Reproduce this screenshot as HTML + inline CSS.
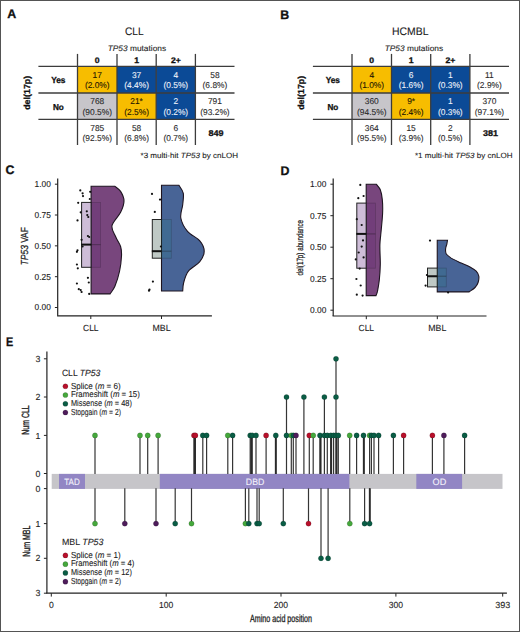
<!DOCTYPE html>
<html><head><meta charset="utf-8"><style>
html,body{margin:0;padding:0;background:#fff;}
svg{display:block;font-family:"Liberation Sans", sans-serif;text-rendering:geometricPrecision;}
</style></head><body>
<svg width="520" height="632" viewBox="0 0 520 632">
<rect width="520" height="632" fill="#fff"/>
<text x="7.3" y="17.8" font-size="12.4" font-weight="bold" fill="#111" stroke="#111" stroke-width="0.3">A</text>
<text x="280.3" y="18.6" font-size="12.4" font-weight="bold" fill="#111" stroke="#111" stroke-width="0.3">B</text>
<rect x="77.5" y="66.4" width="39.5" height="26.6" fill="#f7bd00"/>
<rect x="117.0" y="66.4" width="39.2" height="26.6" fill="#0b4a96"/>
<rect x="156.2" y="66.4" width="39.2" height="26.6" fill="#0b4a96"/>
<rect x="77.5" y="93.0" width="39.5" height="26.3" fill="#c7c5ca"/>
<rect x="117.0" y="93.0" width="39.2" height="26.3" fill="#f7bd00"/>
<rect x="156.2" y="93.0" width="39.2" height="26.3" fill="#0b4a96"/>
<line x1="77.5" y1="53.9" x2="77.5" y2="145" stroke="#3c3c3c" stroke-width="1.3"/>
<line x1="117.0" y1="53.9" x2="117.0" y2="145" stroke="#3c3c3c" stroke-width="1.3"/>
<line x1="156.2" y1="53.9" x2="156.2" y2="145" stroke="#3c3c3c" stroke-width="1.3"/>
<line x1="195.4" y1="53.9" x2="195.4" y2="145" stroke="#3c3c3c" stroke-width="1.3"/>
<line x1="38.4" y1="66.4" x2="234.5" y2="66.4" stroke="#3c3c3c" stroke-width="1.3"/>
<line x1="38.4" y1="93.0" x2="234.5" y2="93.0" stroke="#3c3c3c" stroke-width="1.3"/>
<line x1="38.4" y1="119.3" x2="234.5" y2="119.3" stroke="#3c3c3c" stroke-width="1.3"/>
<text x="134.3" y="34.9" font-size="10.9" text-anchor="middle" fill="#1a1a1a" textLength="18.50" lengthAdjust="spacingAndGlyphs" stroke="#1a1a1a" stroke-width="0.1">CLL</text>
<text x="136.9" y="50.5" font-size="8.0" text-anchor="middle" fill="#222" textLength="58.40" lengthAdjust="spacingAndGlyphs" stroke="#222" stroke-width="0.1"><tspan font-style="italic">TP53</tspan> mutations</text>
<text x="97.25" y="62.9" font-size="8.0" text-anchor="middle" font-weight="bold" fill="#111" textLength="4.81" lengthAdjust="spacingAndGlyphs" stroke="#111" stroke-width="0.3">0</text>
<text x="136.6" y="62.9" font-size="8.0" text-anchor="middle" font-weight="bold" fill="#111" textLength="4.81" lengthAdjust="spacingAndGlyphs" stroke="#111" stroke-width="0.3">1</text>
<text x="175.8" y="62.9" font-size="8.0" text-anchor="middle" font-weight="bold" fill="#111" textLength="9.85" lengthAdjust="spacingAndGlyphs" stroke="#111" stroke-width="0.3">2+</text>
<text x="58.3" y="83.4" font-size="8.7" text-anchor="middle" font-weight="bold" fill="#111" textLength="14.30" lengthAdjust="spacingAndGlyphs" stroke="#111" stroke-width="0.3">Yes</text>
<text x="58.4" y="109.6" font-size="8.6" text-anchor="middle" font-weight="bold" fill="#111" textLength="10.90" lengthAdjust="spacingAndGlyphs" stroke="#111" stroke-width="0.3">No</text>
<text x="0" y="0" font-size="8.8" text-anchor="middle" font-weight="bold" fill="#111" textLength="34.00" lengthAdjust="spacingAndGlyphs" stroke="#111" stroke-width="0.3" transform="translate(29.6,92.8) rotate(-90)">del(17p)</text>
<text x="97.25" y="78.2" font-size="8.5" text-anchor="middle" fill="#1e1600" textLength="9.34" lengthAdjust="spacingAndGlyphs" stroke="#1e1600" stroke-width="0.1">17</text>
<text x="97.25" y="88.2" font-size="8.5" text-anchor="middle" fill="#1e1600" textLength="24.74" lengthAdjust="spacingAndGlyphs" stroke="#1e1600" stroke-width="0.1">(2.0%)</text>
<text x="136.6" y="78.2" font-size="8.5" text-anchor="middle" fill="#eef2fa" textLength="9.34" lengthAdjust="spacingAndGlyphs" stroke="#eef2fa" stroke-width="0.1">37</text>
<text x="136.6" y="88.2" font-size="8.5" text-anchor="middle" fill="#eef2fa" textLength="24.74" lengthAdjust="spacingAndGlyphs" stroke="#eef2fa" stroke-width="0.1">(4.4%)</text>
<text x="175.8" y="78.2" font-size="8.5" text-anchor="middle" fill="#eef2fa" textLength="4.67" lengthAdjust="spacingAndGlyphs" stroke="#eef2fa" stroke-width="0.1">4</text>
<text x="175.8" y="88.2" font-size="8.5" text-anchor="middle" fill="#eef2fa" textLength="24.74" lengthAdjust="spacingAndGlyphs" stroke="#eef2fa" stroke-width="0.1">(0.5%)</text>
<text x="214.95" y="78.2" font-size="8.5" text-anchor="middle" fill="#2a2a2a" textLength="9.34" lengthAdjust="spacingAndGlyphs" stroke="#2a2a2a" stroke-width="0.1">58</text>
<text x="214.95" y="88.2" font-size="8.5" text-anchor="middle" fill="#2a2a2a" textLength="24.74" lengthAdjust="spacingAndGlyphs" stroke="#2a2a2a" stroke-width="0.1">(6.8%)</text>
<text x="97.25" y="104.4" font-size="8.5" text-anchor="middle" fill="#2a2a2a" textLength="14.02" lengthAdjust="spacingAndGlyphs" stroke="#2a2a2a" stroke-width="0.1">768</text>
<text x="97.25" y="114.6" font-size="8.5" text-anchor="middle" fill="#2a2a2a" textLength="29.41" lengthAdjust="spacingAndGlyphs" stroke="#2a2a2a" stroke-width="0.1">(90.5%)</text>
<text x="136.6" y="104.4" font-size="8.5" text-anchor="middle" fill="#1e1600" textLength="12.61" lengthAdjust="spacingAndGlyphs" stroke="#1e1600" stroke-width="0.1">21*</text>
<text x="136.6" y="114.6" font-size="8.5" text-anchor="middle" fill="#1e1600" textLength="24.74" lengthAdjust="spacingAndGlyphs" stroke="#1e1600" stroke-width="0.1">(2.5%)</text>
<text x="175.8" y="104.4" font-size="8.5" text-anchor="middle" fill="#eef2fa" textLength="4.67" lengthAdjust="spacingAndGlyphs" stroke="#eef2fa" stroke-width="0.1">2</text>
<text x="175.8" y="114.6" font-size="8.5" text-anchor="middle" fill="#eef2fa" textLength="24.74" lengthAdjust="spacingAndGlyphs" stroke="#eef2fa" stroke-width="0.1">(0.2%)</text>
<text x="214.95" y="104.4" font-size="8.5" text-anchor="middle" fill="#2a2a2a" textLength="14.02" lengthAdjust="spacingAndGlyphs" stroke="#2a2a2a" stroke-width="0.1">791</text>
<text x="214.95" y="114.6" font-size="8.5" text-anchor="middle" fill="#2a2a2a" textLength="29.41" lengthAdjust="spacingAndGlyphs" stroke="#2a2a2a" stroke-width="0.1">(93.2%)</text>
<text x="97.25" y="131.2" font-size="8.5" text-anchor="middle" fill="#2a2a2a" textLength="14.02" lengthAdjust="spacingAndGlyphs" stroke="#2a2a2a" stroke-width="0.1">785</text>
<text x="97.25" y="140.8" font-size="8.5" text-anchor="middle" fill="#2a2a2a" textLength="29.41" lengthAdjust="spacingAndGlyphs" stroke="#2a2a2a" stroke-width="0.1">(92.5%)</text>
<text x="136.6" y="131.2" font-size="8.5" text-anchor="middle" fill="#2a2a2a" textLength="9.34" lengthAdjust="spacingAndGlyphs" stroke="#2a2a2a" stroke-width="0.1">58</text>
<text x="136.6" y="140.8" font-size="8.5" text-anchor="middle" fill="#2a2a2a" textLength="24.74" lengthAdjust="spacingAndGlyphs" stroke="#2a2a2a" stroke-width="0.1">(6.8%)</text>
<text x="175.8" y="131.2" font-size="8.5" text-anchor="middle" fill="#2a2a2a" textLength="4.67" lengthAdjust="spacingAndGlyphs" stroke="#2a2a2a" stroke-width="0.1">6</text>
<text x="175.8" y="140.8" font-size="8.5" text-anchor="middle" fill="#2a2a2a" textLength="24.74" lengthAdjust="spacingAndGlyphs" stroke="#2a2a2a" stroke-width="0.1">(0.7%)</text>
<text x="215.95" y="135.6" font-size="8.3" text-anchor="middle" font-weight="bold" fill="#111" textLength="15.00" lengthAdjust="spacingAndGlyphs" stroke="#111" stroke-width="0.3">849</text>
<text x="238.1" y="157.6" font-size="7.6" text-anchor="end" fill="#222" textLength="97.60" lengthAdjust="spacingAndGlyphs" stroke="#222" stroke-width="0.1">*3 multi-hit <tspan font-style="italic">TP53</tspan> by cnLOH</text>
<rect x="352.0" y="66.4" width="39.5" height="26.6" fill="#f7bd00"/>
<rect x="391.5" y="66.4" width="39.2" height="26.6" fill="#0b4a96"/>
<rect x="430.7" y="66.4" width="39.2" height="26.6" fill="#0b4a96"/>
<rect x="352.0" y="93.0" width="39.5" height="26.3" fill="#c7c5ca"/>
<rect x="391.5" y="93.0" width="39.2" height="26.3" fill="#f7bd00"/>
<rect x="430.7" y="93.0" width="39.2" height="26.3" fill="#0b4a96"/>
<line x1="352.0" y1="53.9" x2="352.0" y2="145" stroke="#3c3c3c" stroke-width="1.3"/>
<line x1="391.5" y1="53.9" x2="391.5" y2="145" stroke="#3c3c3c" stroke-width="1.3"/>
<line x1="430.7" y1="53.9" x2="430.7" y2="145" stroke="#3c3c3c" stroke-width="1.3"/>
<line x1="469.9" y1="53.9" x2="469.9" y2="145" stroke="#3c3c3c" stroke-width="1.3"/>
<line x1="312.9" y1="66.4" x2="509.0" y2="66.4" stroke="#3c3c3c" stroke-width="1.3"/>
<line x1="312.9" y1="93.0" x2="509.0" y2="93.0" stroke="#3c3c3c" stroke-width="1.3"/>
<line x1="312.9" y1="119.3" x2="509.0" y2="119.3" stroke="#3c3c3c" stroke-width="1.3"/>
<text x="410.3" y="34.9" font-size="10.9" text-anchor="middle" fill="#1a1a1a" textLength="36.40" lengthAdjust="spacingAndGlyphs" stroke="#1a1a1a" stroke-width="0.1">HCMBL</text>
<text x="413.9" y="50.5" font-size="8.0" text-anchor="middle" fill="#222" textLength="58.40" lengthAdjust="spacingAndGlyphs" stroke="#222" stroke-width="0.1"><tspan font-style="italic">TP53</tspan> mutations</text>
<text x="371.75" y="62.9" font-size="8.0" text-anchor="middle" font-weight="bold" fill="#111" textLength="4.81" lengthAdjust="spacingAndGlyphs" stroke="#111" stroke-width="0.3">0</text>
<text x="411.1" y="62.9" font-size="8.0" text-anchor="middle" font-weight="bold" fill="#111" textLength="4.81" lengthAdjust="spacingAndGlyphs" stroke="#111" stroke-width="0.3">1</text>
<text x="450.29999999999995" y="62.9" font-size="8.0" text-anchor="middle" font-weight="bold" fill="#111" textLength="9.85" lengthAdjust="spacingAndGlyphs" stroke="#111" stroke-width="0.3">2+</text>
<text x="332.8" y="83.4" font-size="8.7" text-anchor="middle" font-weight="bold" fill="#111" textLength="14.30" lengthAdjust="spacingAndGlyphs" stroke="#111" stroke-width="0.3">Yes</text>
<text x="332.9" y="109.6" font-size="8.6" text-anchor="middle" font-weight="bold" fill="#111" textLength="10.90" lengthAdjust="spacingAndGlyphs" stroke="#111" stroke-width="0.3">No</text>
<text x="0" y="0" font-size="8.8" text-anchor="middle" font-weight="bold" fill="#111" textLength="34.00" lengthAdjust="spacingAndGlyphs" stroke="#111" stroke-width="0.3" transform="translate(304.1,92.8) rotate(-90)">del(17p)</text>
<text x="371.75" y="78.2" font-size="8.5" text-anchor="middle" fill="#1e1600" textLength="4.67" lengthAdjust="spacingAndGlyphs" stroke="#1e1600" stroke-width="0.1">4</text>
<text x="371.75" y="88.2" font-size="8.5" text-anchor="middle" fill="#1e1600" textLength="24.74" lengthAdjust="spacingAndGlyphs" stroke="#1e1600" stroke-width="0.1">(1.0%)</text>
<text x="411.1" y="78.2" font-size="8.5" text-anchor="middle" fill="#eef2fa" textLength="4.67" lengthAdjust="spacingAndGlyphs" stroke="#eef2fa" stroke-width="0.1">6</text>
<text x="411.1" y="88.2" font-size="8.5" text-anchor="middle" fill="#eef2fa" textLength="24.74" lengthAdjust="spacingAndGlyphs" stroke="#eef2fa" stroke-width="0.1">(1.6%)</text>
<text x="450.29999999999995" y="78.2" font-size="8.5" text-anchor="middle" fill="#eef2fa" textLength="4.67" lengthAdjust="spacingAndGlyphs" stroke="#eef2fa" stroke-width="0.1">1</text>
<text x="450.29999999999995" y="88.2" font-size="8.5" text-anchor="middle" fill="#eef2fa" textLength="24.74" lengthAdjust="spacingAndGlyphs" stroke="#eef2fa" stroke-width="0.1">(0.3%)</text>
<text x="489.45" y="78.2" font-size="8.5" text-anchor="middle" fill="#2a2a2a" textLength="8.72" lengthAdjust="spacingAndGlyphs" stroke="#2a2a2a" stroke-width="0.1">11</text>
<text x="489.45" y="88.2" font-size="8.5" text-anchor="middle" fill="#2a2a2a" textLength="24.74" lengthAdjust="spacingAndGlyphs" stroke="#2a2a2a" stroke-width="0.1">(2.9%)</text>
<text x="371.75" y="104.4" font-size="8.5" text-anchor="middle" fill="#2a2a2a" textLength="14.02" lengthAdjust="spacingAndGlyphs" stroke="#2a2a2a" stroke-width="0.1">360</text>
<text x="371.75" y="114.6" font-size="8.5" text-anchor="middle" fill="#2a2a2a" textLength="29.41" lengthAdjust="spacingAndGlyphs" stroke="#2a2a2a" stroke-width="0.1">(94.5%)</text>
<text x="411.1" y="104.4" font-size="8.5" text-anchor="middle" fill="#1e1600" textLength="7.94" lengthAdjust="spacingAndGlyphs" stroke="#1e1600" stroke-width="0.1">9*</text>
<text x="411.1" y="114.6" font-size="8.5" text-anchor="middle" fill="#1e1600" textLength="24.74" lengthAdjust="spacingAndGlyphs" stroke="#1e1600" stroke-width="0.1">(2.4%)</text>
<text x="450.29999999999995" y="104.4" font-size="8.5" text-anchor="middle" fill="#eef2fa" textLength="4.67" lengthAdjust="spacingAndGlyphs" stroke="#eef2fa" stroke-width="0.1">1</text>
<text x="450.29999999999995" y="114.6" font-size="8.5" text-anchor="middle" fill="#eef2fa" textLength="24.74" lengthAdjust="spacingAndGlyphs" stroke="#eef2fa" stroke-width="0.1">(0.3%)</text>
<text x="489.45" y="104.4" font-size="8.5" text-anchor="middle" fill="#2a2a2a" textLength="14.02" lengthAdjust="spacingAndGlyphs" stroke="#2a2a2a" stroke-width="0.1">370</text>
<text x="489.45" y="114.6" font-size="8.5" text-anchor="middle" fill="#2a2a2a" textLength="29.41" lengthAdjust="spacingAndGlyphs" stroke="#2a2a2a" stroke-width="0.1">(97.1%)</text>
<text x="371.75" y="131.2" font-size="8.5" text-anchor="middle" fill="#2a2a2a" textLength="14.02" lengthAdjust="spacingAndGlyphs" stroke="#2a2a2a" stroke-width="0.1">364</text>
<text x="371.75" y="140.8" font-size="8.5" text-anchor="middle" fill="#2a2a2a" textLength="29.41" lengthAdjust="spacingAndGlyphs" stroke="#2a2a2a" stroke-width="0.1">(95.5%)</text>
<text x="411.1" y="131.2" font-size="8.5" text-anchor="middle" fill="#2a2a2a" textLength="9.34" lengthAdjust="spacingAndGlyphs" stroke="#2a2a2a" stroke-width="0.1">15</text>
<text x="411.1" y="140.8" font-size="8.5" text-anchor="middle" fill="#2a2a2a" textLength="24.74" lengthAdjust="spacingAndGlyphs" stroke="#2a2a2a" stroke-width="0.1">(3.9%)</text>
<text x="450.29999999999995" y="131.2" font-size="8.5" text-anchor="middle" fill="#2a2a2a" textLength="4.67" lengthAdjust="spacingAndGlyphs" stroke="#2a2a2a" stroke-width="0.1">2</text>
<text x="450.29999999999995" y="140.8" font-size="8.5" text-anchor="middle" fill="#2a2a2a" textLength="24.74" lengthAdjust="spacingAndGlyphs" stroke="#2a2a2a" stroke-width="0.1">(0.5%)</text>
<text x="490.45" y="135.6" font-size="8.3" text-anchor="middle" font-weight="bold" fill="#111" textLength="15.00" lengthAdjust="spacingAndGlyphs" stroke="#111" stroke-width="0.3">381</text>
<text x="512.6" y="157.6" font-size="7.6" text-anchor="end" fill="#222" textLength="97.60" lengthAdjust="spacingAndGlyphs" stroke="#222" stroke-width="0.1">*1 multi-hit <tspan font-style="italic">TP53</tspan> by cnLOH</text>
<text x="5.6" y="174.1" font-size="12.4" font-weight="bold" fill="#111" stroke="#111" stroke-width="0.3">C</text>
<path d="M91.1,293.9 L91.1,186.3 L114.9,186.3 C115.9,187.2 119.1,189.0 120.6,191.4 C122.1,193.8 124.0,197.4 124.0,200.9 C124.0,204.4 122.6,208.2 120.6,212.3 C118.6,216.4 112.8,221.5 112.0,225.6 C111.2,229.7 114.4,233.5 115.8,237.0 C117.2,240.5 119.6,243.3 120.6,246.5 C121.5,249.7 121.7,251.9 121.5,256.0 C121.3,260.1 120.7,265.9 119.6,271.0 C118.5,276.1 116.5,282.5 114.9,286.3 C113.3,290.1 110.9,292.6 110.1,293.9 L91.1,293.9 Z" fill="#78467d" stroke="#1e1420" stroke-width="1.1"/>
<rect x="81.6" y="202.4" width="9.50" height="64.90" fill="#cebdd8" stroke="#222" stroke-width="1"/>
<rect x="91.1" y="202.4" width="9.50" height="64.90" fill="#5a1f6e" fill-opacity="0.2" stroke="#111" stroke-opacity="0.2" stroke-width="0.8"/>
<line x1="81.1" y1="244.6" x2="91.1" y2="244.6" stroke="#111" stroke-width="2"/>
<line x1="91.1" y1="244.6" x2="100.6" y2="244.6" stroke="#111" stroke-opacity="0.3" stroke-width="1.2"/>
<circle cx="80.3" cy="190.4" r="1.1" fill="#111"/>
<circle cx="82.6" cy="193.3" r="1.1" fill="#111"/>
<circle cx="83.0" cy="196.1" r="1.1" fill="#111"/>
<circle cx="90.2" cy="191.8" r="1.1" fill="#111"/>
<circle cx="89.8" cy="199.0" r="1.1" fill="#111"/>
<circle cx="78.2" cy="202.8" r="1.1" fill="#111"/>
<circle cx="80.7" cy="212.3" r="1.1" fill="#111"/>
<circle cx="86.8" cy="211.3" r="1.1" fill="#111"/>
<circle cx="87.3" cy="215.1" r="1.1" fill="#111"/>
<circle cx="88.3" cy="217.0" r="1.1" fill="#111"/>
<circle cx="77.5" cy="220.4" r="1.1" fill="#111"/>
<circle cx="87.9" cy="236.0" r="1.1" fill="#111"/>
<circle cx="89.2" cy="237.0" r="1.1" fill="#111"/>
<circle cx="81.6" cy="239.8" r="1.1" fill="#111"/>
<circle cx="77.5" cy="250.3" r="1.1" fill="#111"/>
<circle cx="76.9" cy="251.8" r="1.1" fill="#111"/>
<circle cx="82.6" cy="246.5" r="1.1" fill="#111"/>
<circle cx="76.9" cy="264.5" r="1.1" fill="#111"/>
<circle cx="77.8" cy="268.3" r="1.1" fill="#111"/>
<circle cx="87.9" cy="277.8" r="1.1" fill="#111"/>
<circle cx="88.8" cy="282.5" r="1.1" fill="#111"/>
<circle cx="76.9" cy="283.5" r="1.1" fill="#111"/>
<circle cx="78.8" cy="289.2" r="1.1" fill="#111"/>
<circle cx="80.7" cy="290.1" r="1.1" fill="#111"/>
<circle cx="81.6" cy="292.0" r="1.1" fill="#111"/>
<circle cx="89.2" cy="293.9" r="1.1" fill="#111"/>
<path d="M161.5,291 L161.5,185.3 L178.9,185.3 C179.6,186.6 182.7,190.1 183.3,193.3 C183.9,196.5 183.1,200.6 182.7,204.7 C182.3,208.8 180.0,213.6 180.8,218.0 C181.6,222.4 184.3,227.5 187.5,231.3 C190.7,235.1 197.0,237.5 199.8,240.8 C202.6,244.1 204.2,247.7 204.2,251.2 C204.2,254.7 202.4,258.3 199.8,261.6 C197.2,264.9 191.1,267.6 188.4,271.1 C185.7,274.6 184.6,279.2 183.7,282.5 C182.8,285.8 182.9,289.6 182.7,291.0 L161.5,291 Z" fill="#486496" stroke="#1e1420" stroke-width="1.1"/>
<rect x="152.3" y="219.5" width="9.20" height="38.70" fill="#bfc9c5" stroke="#222" stroke-width="1"/>
<rect x="161.5" y="219.5" width="9.80" height="38.70" fill="#2c7a88" fill-opacity="0.28" stroke="#111" stroke-opacity="0.2" stroke-width="0.8"/>
<line x1="151.8" y1="251.2" x2="161.5" y2="251.2" stroke="#111" stroke-width="2"/>
<line x1="161.5" y1="251.2" x2="171.3" y2="251.2" stroke="#111" stroke-opacity="0.3" stroke-width="1.2"/>
<circle cx="152.0" cy="193.9" r="1.1" fill="#111"/>
<circle cx="160.0" cy="199.6" r="1.1" fill="#111"/>
<circle cx="154.8" cy="211.9" r="1.1" fill="#111"/>
<circle cx="160.9" cy="246.5" r="1.1" fill="#111"/>
<circle cx="152.9" cy="281.6" r="1.1" fill="#111"/>
<circle cx="149.5" cy="289.7" r="1.1" fill="#111"/>
<circle cx="149.0" cy="290.7" r="1.1" fill="#111"/>
<line x1="57.7" y1="178.5" x2="57.7" y2="315.8" stroke="#222" stroke-width="1.2"/>
<line x1="57.1" y1="315.8" x2="211.9" y2="315.8" stroke="#222" stroke-width="1.2"/>
<line x1="54.900000000000006" y1="184.2" x2="57.7" y2="184.2" stroke="#222" stroke-width="1"/>
<text x="50.900000000000006" y="187.1" font-size="8.7" text-anchor="end" fill="#222" textLength="16.30" lengthAdjust="spacingAndGlyphs" stroke="#222" stroke-width="0.1">1.00</text>
<line x1="54.900000000000006" y1="215.0" x2="57.7" y2="215.0" stroke="#222" stroke-width="1"/>
<text x="50.900000000000006" y="217.9" font-size="8.7" text-anchor="end" fill="#222" textLength="16.30" lengthAdjust="spacingAndGlyphs" stroke="#222" stroke-width="0.1">0.75</text>
<line x1="54.900000000000006" y1="245.85" x2="57.7" y2="245.85" stroke="#222" stroke-width="1"/>
<text x="50.900000000000006" y="248.75" font-size="8.7" text-anchor="end" fill="#222" textLength="16.30" lengthAdjust="spacingAndGlyphs" stroke="#222" stroke-width="0.1">0.50</text>
<line x1="54.900000000000006" y1="276.7" x2="57.7" y2="276.7" stroke="#222" stroke-width="1"/>
<text x="50.900000000000006" y="279.59999999999997" font-size="8.7" text-anchor="end" fill="#222" textLength="16.30" lengthAdjust="spacingAndGlyphs" stroke="#222" stroke-width="0.1">0.25</text>
<line x1="54.900000000000006" y1="307.5" x2="57.7" y2="307.5" stroke="#222" stroke-width="1"/>
<text x="50.900000000000006" y="310.4" font-size="8.7" text-anchor="end" fill="#222" textLength="16.30" lengthAdjust="spacingAndGlyphs" stroke="#222" stroke-width="0.1">0.00</text>
<line x1="90.8" y1="315.8" x2="90.8" y2="319.0" stroke="#222" stroke-width="1"/>
<text x="90.8" y="330.6" font-size="8.9" text-anchor="middle" fill="#222" textLength="15.50" lengthAdjust="spacingAndGlyphs" stroke="#222" stroke-width="0.1">CLL</text>
<line x1="161.5" y1="315.8" x2="161.5" y2="319.0" stroke="#222" stroke-width="1"/>
<text x="161.5" y="330.6" font-size="8.9" text-anchor="middle" fill="#222" textLength="18.00" lengthAdjust="spacingAndGlyphs" stroke="#222" stroke-width="0.1">MBL</text>
<text x="0" y="0" font-size="10.3" text-anchor="middle" fill="#222" textLength="38.00" lengthAdjust="spacingAndGlyphs" stroke="#222" stroke-width="0.25" transform="translate(27.7,246.2) rotate(-90)"><tspan font-style="italic">TP53</tspan> VAF</text>
<text x="280.6" y="174.6" font-size="12.4" font-weight="bold" fill="#111" stroke="#111" stroke-width="0.3">D</text>
<path d="M366.2,295.6 L366.2,184.3 L376.4,184.3 C377.0,185.2 379.3,187.2 380.3,189.8 C381.3,192.4 381.9,195.7 382.3,199.6 C382.7,203.5 382.8,208.4 382.6,213.3 C382.4,218.2 381.8,223.8 381.3,229.0 C380.9,234.2 380.1,238.8 379.9,244.7 C379.7,250.6 380.4,258.4 380.3,264.3 C380.2,270.2 379.8,275.4 379.3,280.0 C378.8,284.6 377.9,289.1 377.4,291.7 C376.8,294.3 376.2,295.0 376.0,295.6 L366.2,295.6 Z" fill="#78467d" stroke="#1e1420" stroke-width="1.1"/>
<rect x="356.8" y="203.1" width="9.40" height="65.10" fill="#cebdd8" stroke="#222" stroke-width="1"/>
<rect x="366.2" y="203.1" width="9.20" height="65.10" fill="#5a1f6e" fill-opacity="0.2" stroke="#111" stroke-opacity="0.2" stroke-width="0.8"/>
<line x1="356.3" y1="233.9" x2="366.2" y2="233.9" stroke="#111" stroke-width="2"/>
<line x1="366.2" y1="233.9" x2="375.4" y2="233.9" stroke="#111" stroke-opacity="0.3" stroke-width="1.2"/>
<circle cx="360.3" cy="184.9" r="1.1" fill="#111"/>
<circle cx="363.6" cy="196.0" r="1.1" fill="#111"/>
<circle cx="358.3" cy="198.2" r="1.1" fill="#111"/>
<circle cx="356.8" cy="219.2" r="1.1" fill="#111"/>
<circle cx="361.7" cy="225.0" r="1.1" fill="#111"/>
<circle cx="363.0" cy="240.4" r="1.1" fill="#111"/>
<circle cx="361.7" cy="246.6" r="1.1" fill="#111"/>
<circle cx="358.7" cy="252.5" r="1.1" fill="#111"/>
<circle cx="363.6" cy="257.4" r="1.1" fill="#111"/>
<circle cx="355.8" cy="259.4" r="1.1" fill="#111"/>
<circle cx="359.7" cy="268.6" r="1.1" fill="#111"/>
<circle cx="356.4" cy="279.0" r="1.1" fill="#111"/>
<circle cx="360.7" cy="285.5" r="1.1" fill="#111"/>
<circle cx="356.8" cy="294.7" r="1.1" fill="#111"/>
<circle cx="362.6" cy="295.6" r="1.1" fill="#111"/>
<path d="M437.25,291.9 L437.25,240.25 L447.5,240.25 C447.4,240.8 447.2,242.3 446.9,243.8 C446.6,245.2 445.7,247.1 445.6,248.8 C445.5,250.4 445.3,252.2 446.2,253.8 C447.2,255.3 448.8,256.5 451.2,258.1 C453.8,259.7 458.1,261.6 461.2,263.1 C464.4,264.6 467.5,265.5 470.0,266.9 C472.5,268.3 474.8,269.7 476.2,271.2 C477.7,272.8 478.4,274.4 478.8,276.2 C479.1,278.1 478.7,280.6 478.1,282.5 C477.5,284.4 476.4,286.0 475.0,287.5 C473.6,289.0 471.0,290.5 470.0,291.2 C469.0,292.0 469.0,291.8 468.8,291.9 L437.25,291.9 Z" fill="#486496" stroke="#1e1420" stroke-width="1.1"/>
<rect x="427.5" y="268.1" width="9.75" height="18.80" fill="#bfc9c5" stroke="#222" stroke-width="1"/>
<rect x="437.25" y="268.1" width="9.00" height="18.80" fill="#2c7a88" fill-opacity="0.28" stroke="#111" stroke-opacity="0.2" stroke-width="0.8"/>
<line x1="427.0" y1="276.25" x2="437.25" y2="276.25" stroke="#111" stroke-width="2"/>
<line x1="437.25" y1="276.25" x2="446.25" y2="276.25" stroke="#111" stroke-opacity="0.3" stroke-width="1.2"/>
<circle cx="430.0" cy="240.6" r="1.1" fill="#111"/>
<circle cx="426.9" cy="275.0" r="1.1" fill="#111"/>
<circle cx="425.6" cy="285.6" r="1.1" fill="#111"/>
<circle cx="448.1" cy="292.5" r="1.1" fill="#111"/>
<line x1="333.2" y1="178.5" x2="333.2" y2="316.0" stroke="#222" stroke-width="1.2"/>
<line x1="332.59999999999997" y1="316.0" x2="486.5" y2="316.0" stroke="#222" stroke-width="1.2"/>
<line x1="330.4" y1="184.2" x2="333.2" y2="184.2" stroke="#222" stroke-width="1"/>
<text x="326.4" y="187.1" font-size="8.7" text-anchor="end" fill="#222" textLength="16.30" lengthAdjust="spacingAndGlyphs" stroke="#222" stroke-width="0.1">1.00</text>
<line x1="330.4" y1="215.7" x2="333.2" y2="215.7" stroke="#222" stroke-width="1"/>
<text x="326.4" y="218.6" font-size="8.7" text-anchor="end" fill="#222" textLength="16.30" lengthAdjust="spacingAndGlyphs" stroke="#222" stroke-width="0.1">0.75</text>
<line x1="330.4" y1="247.2" x2="333.2" y2="247.2" stroke="#222" stroke-width="1"/>
<text x="326.4" y="250.1" font-size="8.7" text-anchor="end" fill="#222" textLength="16.30" lengthAdjust="spacingAndGlyphs" stroke="#222" stroke-width="0.1">0.50</text>
<line x1="330.4" y1="278.7" x2="333.2" y2="278.7" stroke="#222" stroke-width="1"/>
<text x="326.4" y="281.59999999999997" font-size="8.7" text-anchor="end" fill="#222" textLength="16.30" lengthAdjust="spacingAndGlyphs" stroke="#222" stroke-width="0.1">0.25</text>
<line x1="330.4" y1="310.2" x2="333.2" y2="310.2" stroke="#222" stroke-width="1"/>
<text x="326.4" y="313.09999999999997" font-size="8.7" text-anchor="end" fill="#222" textLength="16.30" lengthAdjust="spacingAndGlyphs" stroke="#222" stroke-width="0.1">0.00</text>
<line x1="366.3" y1="316.0" x2="366.3" y2="319.2" stroke="#222" stroke-width="1"/>
<text x="366.3" y="330.8" font-size="8.9" text-anchor="middle" fill="#222" textLength="15.50" lengthAdjust="spacingAndGlyphs" stroke="#222" stroke-width="0.1">CLL</text>
<line x1="437.3" y1="316.0" x2="437.3" y2="319.2" stroke="#222" stroke-width="1"/>
<text x="437.3" y="330.8" font-size="8.9" text-anchor="middle" fill="#222" textLength="18.00" lengthAdjust="spacingAndGlyphs" stroke="#222" stroke-width="0.1">MBL</text>
<text x="0" y="0" font-size="9.0" text-anchor="middle" fill="#222" textLength="55.60" lengthAdjust="spacingAndGlyphs" stroke="#222" stroke-width="0.25" transform="translate(302.6,247.7) rotate(-90)">del(17p) abundance</text>
<text x="6.0" y="345.8" font-size="12.4" font-weight="bold" fill="#111" textLength="7.20" lengthAdjust="spacingAndGlyphs" stroke="#111" stroke-width="0.3">E</text>
<line x1="46.9" y1="351.5" x2="46.9" y2="593.2" stroke="#222" stroke-width="1.2"/>
<line x1="46.3" y1="593.2" x2="506.9" y2="593.2" stroke="#222" stroke-width="1.2"/>
<line x1="43.9" y1="473.5" x2="46.9" y2="473.5" stroke="#222" stroke-width="1"/>
<text x="38" y="476.6" font-size="8.8" text-anchor="middle" fill="#222" stroke="#222" stroke-width="0.1">0</text>
<line x1="43.9" y1="435.4" x2="46.9" y2="435.4" stroke="#222" stroke-width="1"/>
<text x="38" y="438.5" font-size="8.8" text-anchor="middle" fill="#222" stroke="#222" stroke-width="0.1">1</text>
<line x1="43.9" y1="397.0" x2="46.9" y2="397.0" stroke="#222" stroke-width="1"/>
<text x="38" y="400.1" font-size="8.8" text-anchor="middle" fill="#222" stroke="#222" stroke-width="0.1">2</text>
<line x1="43.9" y1="358.8" x2="46.9" y2="358.8" stroke="#222" stroke-width="1"/>
<text x="38" y="361.90000000000003" font-size="8.8" text-anchor="middle" fill="#222" stroke="#222" stroke-width="0.1">3</text>
<line x1="43.9" y1="488.6" x2="46.9" y2="488.6" stroke="#222" stroke-width="1"/>
<text x="38" y="491.70000000000005" font-size="8.8" text-anchor="middle" fill="#222" stroke="#222" stroke-width="0.1">0</text>
<line x1="43.9" y1="523.6" x2="46.9" y2="523.6" stroke="#222" stroke-width="1"/>
<text x="38" y="526.7" font-size="8.8" text-anchor="middle" fill="#222" stroke="#222" stroke-width="0.1">1</text>
<line x1="43.9" y1="558.3" x2="46.9" y2="558.3" stroke="#222" stroke-width="1"/>
<text x="38" y="561.4" font-size="8.8" text-anchor="middle" fill="#222" stroke="#222" stroke-width="0.1">2</text>
<line x1="43.9" y1="593.2" x2="46.9" y2="593.2" stroke="#222" stroke-width="1"/>
<text x="38" y="596.3000000000001" font-size="8.8" text-anchor="middle" fill="#222" stroke="#222" stroke-width="0.1">3</text>
<line x1="51.3" y1="593.2" x2="51.3" y2="596.6" stroke="#222" stroke-width="1"/>
<text x="51.3" y="607.5" font-size="8.8" text-anchor="middle" fill="#222" textLength="4.80" lengthAdjust="spacingAndGlyphs" stroke="#222" stroke-width="0.1">0</text>
<line x1="166.2" y1="593.2" x2="166.2" y2="596.6" stroke="#222" stroke-width="1"/>
<text x="166.2" y="607.5" font-size="8.8" text-anchor="middle" fill="#222" textLength="14.30" lengthAdjust="spacingAndGlyphs" stroke="#222" stroke-width="0.1">100</text>
<line x1="281.0" y1="593.2" x2="281.0" y2="596.6" stroke="#222" stroke-width="1"/>
<text x="281.0" y="607.5" font-size="8.8" text-anchor="middle" fill="#222" textLength="14.30" lengthAdjust="spacingAndGlyphs" stroke="#222" stroke-width="0.1">200</text>
<line x1="395.9" y1="593.2" x2="395.9" y2="596.6" stroke="#222" stroke-width="1"/>
<text x="395.9" y="607.5" font-size="8.8" text-anchor="middle" fill="#222" textLength="14.30" lengthAdjust="spacingAndGlyphs" stroke="#222" stroke-width="0.1">300</text>
<line x1="502.7" y1="593.2" x2="502.7" y2="596.6" stroke="#222" stroke-width="1"/>
<text x="502.7" y="607.5" font-size="8.8" text-anchor="middle" fill="#222" textLength="15.00" lengthAdjust="spacingAndGlyphs" stroke="#222" stroke-width="0.1">393</text>
<text x="250" y="621.5" font-size="10.4" fill="#222" textLength="62.00" lengthAdjust="spacingAndGlyphs" stroke="#222" stroke-width="0.3">Amino acid position</text>
<text x="0" y="0" font-size="10.4" text-anchor="middle" fill="#222" textLength="29.30" lengthAdjust="spacingAndGlyphs" stroke="#222" stroke-width="0.35" transform="translate(29.3,420) rotate(-90)">Num CLL</text>
<text x="0" y="0" font-size="10.4" text-anchor="middle" fill="#222" textLength="31.30" lengthAdjust="spacingAndGlyphs" stroke="#222" stroke-width="0.35" transform="translate(29.9,541.2) rotate(-90)">Num MBL</text>
<rect x="51.7" y="473.9" width="450.8" height="15" fill="#c6c5c9"/>
<rect x="59" y="473.9" width="26" height="15" fill="#9286c4"/>
<rect x="159.8" y="473.9" width="189.6" height="15" fill="#9286c4"/>
<rect x="416.3" y="473.9" width="45.8" height="15" fill="#9286c4"/>
<text x="72" y="484.5" font-size="9.2" text-anchor="middle" fill="#f4f2fb" textLength="15.50" lengthAdjust="spacingAndGlyphs" stroke="#f4f2fb" stroke-width="0.1">TAD</text>
<text x="255.1" y="484.5" font-size="9.2" text-anchor="middle" fill="#f4f2fb" textLength="18.50" lengthAdjust="spacingAndGlyphs" stroke="#f4f2fb" stroke-width="0.1">DBD</text>
<text x="439.4" y="484.5" font-size="9.2" text-anchor="middle" fill="#f4f2fb" textLength="13.60" lengthAdjust="spacingAndGlyphs" stroke="#f4f2fb" stroke-width="0.1">OD</text>
<line x1="95" y1="435.4" x2="95" y2="474" stroke="#353535" stroke-width="1.2"/>
<line x1="140" y1="435.4" x2="140" y2="474" stroke="#353535" stroke-width="1.2"/>
<line x1="147.7" y1="435.4" x2="147.7" y2="474" stroke="#353535" stroke-width="1.2"/>
<line x1="158.1" y1="435.4" x2="158.1" y2="474" stroke="#353535" stroke-width="1.2"/>
<line x1="194.0" y1="435.4" x2="194.0" y2="474" stroke="#353535" stroke-width="1.2"/>
<line x1="195.4" y1="435.4" x2="195.4" y2="474" stroke="#353535" stroke-width="1.2"/>
<line x1="202.8" y1="435.4" x2="202.8" y2="474" stroke="#353535" stroke-width="1.2"/>
<line x1="206.6" y1="435.4" x2="206.6" y2="474" stroke="#353535" stroke-width="1.2"/>
<line x1="227.8" y1="435.4" x2="227.8" y2="474" stroke="#353535" stroke-width="1.2"/>
<line x1="232.6" y1="435.4" x2="232.6" y2="474" stroke="#353535" stroke-width="1.2"/>
<line x1="250.2" y1="435.4" x2="250.2" y2="474" stroke="#353535" stroke-width="1.2"/>
<line x1="252.2" y1="435.4" x2="252.2" y2="474" stroke="#353535" stroke-width="1.2"/>
<line x1="256.0" y1="435.4" x2="256.0" y2="474" stroke="#353535" stroke-width="1.2"/>
<line x1="266.1" y1="435.4" x2="266.1" y2="474" stroke="#353535" stroke-width="1.2"/>
<line x1="275.8" y1="435.4" x2="275.8" y2="474" stroke="#353535" stroke-width="1.2"/>
<line x1="286.5" y1="397.0" x2="286.5" y2="474" stroke="#353535" stroke-width="1.2"/>
<line x1="291.3" y1="435.4" x2="291.3" y2="474" stroke="#353535" stroke-width="1.2"/>
<line x1="293.3" y1="435.4" x2="293.3" y2="474" stroke="#353535" stroke-width="1.2"/>
<line x1="296.0" y1="435.4" x2="296.0" y2="474" stroke="#353535" stroke-width="1.2"/>
<line x1="309.3" y1="435.4" x2="309.3" y2="474" stroke="#353535" stroke-width="1.2"/>
<line x1="313.2" y1="435.4" x2="313.2" y2="474" stroke="#353535" stroke-width="1.2"/>
<line x1="320.0" y1="435.4" x2="320.0" y2="474" stroke="#353535" stroke-width="1.2"/>
<line x1="324.4" y1="397.0" x2="324.4" y2="474" stroke="#353535" stroke-width="1.2"/>
<line x1="327.3" y1="435.4" x2="327.3" y2="474" stroke="#353535" stroke-width="1.2"/>
<line x1="330.8" y1="435.4" x2="330.8" y2="474" stroke="#353535" stroke-width="1.2"/>
<line x1="333.6" y1="435.4" x2="333.6" y2="474" stroke="#353535" stroke-width="1.2"/>
<line x1="336.0" y1="358.8" x2="336.0" y2="474" stroke="#353535" stroke-width="1.2"/>
<line x1="338.3" y1="435.4" x2="338.3" y2="474" stroke="#353535" stroke-width="1.2"/>
<line x1="349.7" y1="435.4" x2="349.7" y2="474" stroke="#353535" stroke-width="1.2"/>
<line x1="356.6" y1="435.4" x2="356.6" y2="474" stroke="#353535" stroke-width="1.2"/>
<line x1="363.5" y1="435.4" x2="363.5" y2="474" stroke="#353535" stroke-width="1.2"/>
<line x1="369.6" y1="435.4" x2="369.6" y2="474" stroke="#353535" stroke-width="1.2"/>
<line x1="371.4" y1="435.4" x2="371.4" y2="474" stroke="#353535" stroke-width="1.2"/>
<line x1="374.0" y1="435.4" x2="374.0" y2="474" stroke="#353535" stroke-width="1.2"/>
<line x1="378.6" y1="435.4" x2="378.6" y2="474" stroke="#353535" stroke-width="1.2"/>
<line x1="393.4" y1="435.4" x2="393.4" y2="474" stroke="#353535" stroke-width="1.2"/>
<line x1="403.6" y1="435.4" x2="403.6" y2="474" stroke="#353535" stroke-width="1.2"/>
<line x1="432.4" y1="435.4" x2="432.4" y2="474" stroke="#353535" stroke-width="1.2"/>
<line x1="443.9" y1="435.4" x2="443.9" y2="474" stroke="#353535" stroke-width="1.2"/>
<line x1="464.6" y1="435.4" x2="464.6" y2="474" stroke="#353535" stroke-width="1.2"/>
<line x1="303.9" y1="397.0" x2="303.9" y2="474" stroke="#353535" stroke-width="1.2"/>
<line x1="194.7" y1="435.4" x2="194.7" y2="474" stroke="#2a2a2a" stroke-width="1.9"/>
<line x1="251.3" y1="435.4" x2="251.3" y2="474" stroke="#2a2a2a" stroke-width="1.9"/>
<line x1="275.8" y1="435.4" x2="275.8" y2="474" stroke="#2a2a2a" stroke-width="1.9"/>
<line x1="320.6" y1="435.4" x2="320.6" y2="474" stroke="#2a2a2a" stroke-width="1.9"/>
<line x1="331.2" y1="435.4" x2="331.2" y2="474" stroke="#2a2a2a" stroke-width="1.9"/>
<line x1="336.6" y1="435.4" x2="336.6" y2="474" stroke="#2a2a2a" stroke-width="1.9"/>
<line x1="363.9" y1="435.4" x2="363.9" y2="474" stroke="#2a2a2a" stroke-width="1.9"/>
<circle cx="95" cy="435.4" r="2.6" fill="#45a83c" stroke="#000" stroke-opacity="0.3" stroke-width="0.5"/>
<circle cx="140" cy="435.4" r="2.6" fill="#45a83c" stroke="#000" stroke-opacity="0.3" stroke-width="0.5"/>
<circle cx="147.7" cy="435.4" r="2.6" fill="#45a83c" stroke="#000" stroke-opacity="0.3" stroke-width="0.5"/>
<circle cx="158.1" cy="435.4" r="2.6" fill="#45a83c" stroke="#000" stroke-opacity="0.3" stroke-width="0.5"/>
<circle cx="194.0" cy="435.4" r="2.6" fill="#b8102b" stroke="#000" stroke-opacity="0.3" stroke-width="0.5"/>
<circle cx="195.4" cy="435.4" r="2.6" fill="#b8102b" stroke="#000" stroke-opacity="0.3" stroke-width="0.5"/>
<circle cx="202.8" cy="435.4" r="2.6" fill="#0a5d45" stroke="#000" stroke-opacity="0.3" stroke-width="0.5"/>
<circle cx="206.6" cy="435.4" r="2.6" fill="#0a5d45" stroke="#000" stroke-opacity="0.3" stroke-width="0.5"/>
<circle cx="227.8" cy="435.4" r="2.6" fill="#45a83c" stroke="#000" stroke-opacity="0.3" stroke-width="0.5"/>
<circle cx="232.6" cy="435.4" r="2.6" fill="#0a5d45" stroke="#000" stroke-opacity="0.3" stroke-width="0.5"/>
<circle cx="250.2" cy="435.4" r="2.6" fill="#0a5d45" stroke="#000" stroke-opacity="0.3" stroke-width="0.5"/>
<circle cx="252.2" cy="435.4" r="2.6" fill="#0a5d45" stroke="#000" stroke-opacity="0.3" stroke-width="0.5"/>
<circle cx="256.0" cy="435.4" r="2.6" fill="#0a5d45" stroke="#000" stroke-opacity="0.3" stroke-width="0.5"/>
<circle cx="266.1" cy="435.4" r="2.6" fill="#b8102b" stroke="#000" stroke-opacity="0.3" stroke-width="0.5"/>
<circle cx="275.8" cy="435.4" r="2.6" fill="#0a5d45" stroke="#000" stroke-opacity="0.3" stroke-width="0.5"/>
<circle cx="286.5" cy="435.4" r="2.6" fill="#0a5d45" stroke="#000" stroke-opacity="0.3" stroke-width="0.5"/>
<circle cx="291.3" cy="435.4" r="2.6" fill="#45a83c" stroke="#000" stroke-opacity="0.3" stroke-width="0.5"/>
<circle cx="293.3" cy="435.4" r="2.6" fill="#0a5d45" stroke="#000" stroke-opacity="0.3" stroke-width="0.5"/>
<circle cx="296.0" cy="435.4" r="2.6" fill="#4e1c5b" stroke="#000" stroke-opacity="0.3" stroke-width="0.5"/>
<circle cx="309.3" cy="435.4" r="2.6" fill="#b8102b" stroke="#000" stroke-opacity="0.3" stroke-width="0.5"/>
<circle cx="313.2" cy="435.4" r="2.6" fill="#45a83c" stroke="#000" stroke-opacity="0.3" stroke-width="0.5"/>
<circle cx="320.0" cy="435.4" r="2.6" fill="#0a5d45" stroke="#000" stroke-opacity="0.3" stroke-width="0.5"/>
<circle cx="324.4" cy="435.4" r="2.6" fill="#0a5d45" stroke="#000" stroke-opacity="0.3" stroke-width="0.5"/>
<circle cx="327.3" cy="435.4" r="2.6" fill="#0a5d45" stroke="#000" stroke-opacity="0.3" stroke-width="0.5"/>
<circle cx="330.8" cy="435.4" r="2.6" fill="#0a5d45" stroke="#000" stroke-opacity="0.3" stroke-width="0.5"/>
<circle cx="333.6" cy="435.4" r="2.6" fill="#0a5d45" stroke="#000" stroke-opacity="0.3" stroke-width="0.5"/>
<circle cx="336.0" cy="435.4" r="2.6" fill="#0a5d45" stroke="#000" stroke-opacity="0.3" stroke-width="0.5"/>
<circle cx="338.3" cy="435.4" r="2.6" fill="#0a5d45" stroke="#000" stroke-opacity="0.3" stroke-width="0.5"/>
<circle cx="349.7" cy="435.4" r="2.6" fill="#45a83c" stroke="#000" stroke-opacity="0.3" stroke-width="0.5"/>
<circle cx="356.6" cy="435.4" r="2.6" fill="#0a5d45" stroke="#000" stroke-opacity="0.3" stroke-width="0.5"/>
<circle cx="363.5" cy="435.4" r="2.6" fill="#0a5d45" stroke="#000" stroke-opacity="0.3" stroke-width="0.5"/>
<circle cx="369.6" cy="435.4" r="2.6" fill="#45a83c" stroke="#000" stroke-opacity="0.3" stroke-width="0.5"/>
<circle cx="371.4" cy="435.4" r="2.6" fill="#0a5d45" stroke="#000" stroke-opacity="0.3" stroke-width="0.5"/>
<circle cx="374.0" cy="435.4" r="2.6" fill="#0a5d45" stroke="#000" stroke-opacity="0.3" stroke-width="0.5"/>
<circle cx="378.6" cy="435.4" r="2.6" fill="#0a5d45" stroke="#000" stroke-opacity="0.3" stroke-width="0.5"/>
<circle cx="393.4" cy="435.4" r="2.6" fill="#0a5d45" stroke="#000" stroke-opacity="0.3" stroke-width="0.5"/>
<circle cx="403.6" cy="435.4" r="2.6" fill="#b8102b" stroke="#000" stroke-opacity="0.3" stroke-width="0.5"/>
<circle cx="432.4" cy="435.4" r="2.6" fill="#b8102b" stroke="#000" stroke-opacity="0.3" stroke-width="0.5"/>
<circle cx="443.9" cy="435.4" r="2.6" fill="#4e1c5b" stroke="#000" stroke-opacity="0.3" stroke-width="0.5"/>
<circle cx="464.6" cy="435.4" r="2.6" fill="#0a5d45" stroke="#000" stroke-opacity="0.3" stroke-width="0.5"/>
<circle cx="286.5" cy="397.0" r="2.6" fill="#0a5d45" stroke="#000" stroke-opacity="0.3" stroke-width="0.5"/>
<circle cx="303.9" cy="397.0" r="2.6" fill="#0a5d45" stroke="#000" stroke-opacity="0.3" stroke-width="0.5"/>
<circle cx="324.4" cy="397.0" r="2.6" fill="#0a5d45" stroke="#000" stroke-opacity="0.3" stroke-width="0.5"/>
<circle cx="336.0" cy="397.0" r="2.6" fill="#0a5d45" stroke="#000" stroke-opacity="0.3" stroke-width="0.5"/>
<circle cx="336.0" cy="358.8" r="2.6" fill="#0a5d45" stroke="#000" stroke-opacity="0.3" stroke-width="0.5"/>
<line x1="95" y1="488.3" x2="95" y2="523.6" stroke="#353535" stroke-width="1.2"/>
<line x1="124.8" y1="488.3" x2="124.8" y2="523.6" stroke="#353535" stroke-width="1.2"/>
<line x1="156" y1="488.3" x2="156" y2="523.6" stroke="#353535" stroke-width="1.2"/>
<line x1="175.2" y1="488.3" x2="175.2" y2="523.6" stroke="#353535" stroke-width="1.2"/>
<line x1="191.5" y1="488.3" x2="191.5" y2="523.6" stroke="#353535" stroke-width="1.2"/>
<line x1="245.4" y1="488.3" x2="245.4" y2="523.6" stroke="#353535" stroke-width="1.2"/>
<line x1="248.8" y1="488.3" x2="248.8" y2="523.6" stroke="#353535" stroke-width="1.2"/>
<line x1="257" y1="488.3" x2="257" y2="523.6" stroke="#353535" stroke-width="1.2"/>
<line x1="259.2" y1="488.3" x2="259.2" y2="523.6" stroke="#353535" stroke-width="1.2"/>
<line x1="283.3" y1="488.3" x2="283.3" y2="523.6" stroke="#353535" stroke-width="1.2"/>
<line x1="308.5" y1="488.3" x2="308.5" y2="523.6" stroke="#353535" stroke-width="1.2"/>
<line x1="321" y1="488.3" x2="321" y2="558.3" stroke="#353535" stroke-width="1.2"/>
<line x1="328.1" y1="488.3" x2="328.1" y2="558.3" stroke="#353535" stroke-width="1.2"/>
<line x1="349.8" y1="488.3" x2="349.8" y2="523.6" stroke="#353535" stroke-width="1.2"/>
<line x1="364.6" y1="488.3" x2="364.6" y2="523.6" stroke="#353535" stroke-width="1.2"/>
<line x1="369.6" y1="488.3" x2="369.6" y2="523.6" stroke="#353535" stroke-width="1.2"/>
<line x1="369.8" y1="488.3" x2="369.8" y2="523.6" stroke="#2a2a2a" stroke-width="1.9"/>
<circle cx="95" cy="523.6" r="2.6" fill="#45a83c" stroke="#000" stroke-opacity="0.3" stroke-width="0.5"/>
<circle cx="124.8" cy="523.6" r="2.6" fill="#4e1c5b" stroke="#000" stroke-opacity="0.3" stroke-width="0.5"/>
<circle cx="156" cy="523.6" r="2.6" fill="#4e1c5b" stroke="#000" stroke-opacity="0.3" stroke-width="0.5"/>
<circle cx="175.2" cy="523.6" r="2.6" fill="#0a5d45" stroke="#000" stroke-opacity="0.3" stroke-width="0.5"/>
<circle cx="191.5" cy="523.6" r="2.6" fill="#45a83c" stroke="#000" stroke-opacity="0.3" stroke-width="0.5"/>
<circle cx="245.4" cy="523.6" r="2.6" fill="#45a83c" stroke="#000" stroke-opacity="0.3" stroke-width="0.5"/>
<circle cx="248.8" cy="523.6" r="2.6" fill="#0a5d45" stroke="#000" stroke-opacity="0.3" stroke-width="0.5"/>
<circle cx="257" cy="523.6" r="2.6" fill="#0a5d45" stroke="#000" stroke-opacity="0.3" stroke-width="0.5"/>
<circle cx="259.2" cy="523.6" r="2.6" fill="#0a5d45" stroke="#000" stroke-opacity="0.3" stroke-width="0.5"/>
<circle cx="283.3" cy="523.6" r="2.6" fill="#0a5d45" stroke="#000" stroke-opacity="0.3" stroke-width="0.5"/>
<circle cx="308.5" cy="523.6" r="2.6" fill="#b8102b" stroke="#000" stroke-opacity="0.3" stroke-width="0.5"/>
<circle cx="321" cy="558.3" r="2.6" fill="#0a5d45" stroke="#000" stroke-opacity="0.3" stroke-width="0.5"/>
<circle cx="328.1" cy="558.3" r="2.6" fill="#0a5d45" stroke="#000" stroke-opacity="0.3" stroke-width="0.5"/>
<circle cx="349.8" cy="523.6" r="2.6" fill="#45a83c" stroke="#000" stroke-opacity="0.3" stroke-width="0.5"/>
<circle cx="364.6" cy="523.6" r="2.6" fill="#0a5d45" stroke="#000" stroke-opacity="0.3" stroke-width="0.5"/>
<circle cx="369.6" cy="523.6" r="2.6" fill="#0a5d45" stroke="#000" stroke-opacity="0.3" stroke-width="0.5"/>
<text x="61.9" y="375.6" font-size="9.1" fill="#222" textLength="38.40" lengthAdjust="spacingAndGlyphs" stroke="#222" stroke-width="0.1">CLL <tspan font-style="italic">TP53</tspan></text>
<circle cx="65.4" cy="386.3" r="2.55" fill="#b8102b" stroke="#000" stroke-opacity="0.3" stroke-width="0.5"/>
<text x="70.9" y="388.6" font-size="8.7" fill="#222" textLength="49.80" lengthAdjust="spacingAndGlyphs" stroke="#222" stroke-width="0.1">Splice (<tspan font-style="italic">m</tspan> = 6)</text>
<circle cx="65.4" cy="395.05" r="2.55" fill="#45a83c" stroke="#000" stroke-opacity="0.3" stroke-width="0.5"/>
<text x="70.9" y="397.35" font-size="8.7" fill="#222" textLength="68.90" lengthAdjust="spacingAndGlyphs" stroke="#222" stroke-width="0.1">Frameshift (<tspan font-style="italic">m</tspan> = 15)</text>
<circle cx="65.4" cy="403.8" r="2.55" fill="#0a5d45" stroke="#000" stroke-opacity="0.3" stroke-width="0.5"/>
<text x="70.9" y="406.1" font-size="8.7" fill="#222" textLength="61.00" lengthAdjust="spacingAndGlyphs" stroke="#222" stroke-width="0.1">Missense (<tspan font-style="italic">m</tspan> = 48)</text>
<circle cx="65.4" cy="412.55" r="2.55" fill="#4e1c5b" stroke="#000" stroke-opacity="0.3" stroke-width="0.5"/>
<text x="70.9" y="414.85" font-size="8.7" fill="#222" textLength="50.00" lengthAdjust="spacingAndGlyphs" stroke="#222" stroke-width="0.1">Stopgain (<tspan font-style="italic">m</tspan> = 2)</text>
<text x="61.9" y="544.7" font-size="9.1" fill="#222" textLength="41.50" lengthAdjust="spacingAndGlyphs" stroke="#222" stroke-width="0.1">MBL <tspan font-style="italic">TP53</tspan></text>
<circle cx="65.4" cy="555.4000000000001" r="2.55" fill="#b8102b" stroke="#000" stroke-opacity="0.3" stroke-width="0.5"/>
<text x="70.9" y="557.7" font-size="8.7" fill="#222" textLength="49.80" lengthAdjust="spacingAndGlyphs" stroke="#222" stroke-width="0.1">Splice (<tspan font-style="italic">m</tspan> = 1)</text>
<circle cx="65.4" cy="564.1500000000001" r="2.55" fill="#45a83c" stroke="#000" stroke-opacity="0.3" stroke-width="0.5"/>
<text x="70.9" y="566.45" font-size="8.7" fill="#222" textLength="63.50" lengthAdjust="spacingAndGlyphs" stroke="#222" stroke-width="0.1">Frameshift (<tspan font-style="italic">m</tspan> = 4)</text>
<circle cx="65.4" cy="572.9000000000001" r="2.55" fill="#0a5d45" stroke="#000" stroke-opacity="0.3" stroke-width="0.5"/>
<text x="70.9" y="575.2" font-size="8.7" fill="#222" textLength="61.00" lengthAdjust="spacingAndGlyphs" stroke="#222" stroke-width="0.1">Missense (<tspan font-style="italic">m</tspan> = 12)</text>
<circle cx="65.4" cy="581.6500000000001" r="2.55" fill="#4e1c5b" stroke="#000" stroke-opacity="0.3" stroke-width="0.5"/>
<text x="70.9" y="583.95" font-size="8.7" fill="#222" textLength="50.00" lengthAdjust="spacingAndGlyphs" stroke="#222" stroke-width="0.1">Stopgain (<tspan font-style="italic">m</tspan> = 2)</text>
<rect x="0.5" y="0.5" width="519" height="631" fill="none" stroke="#545454" stroke-width="1"/>
</svg></body></html>
